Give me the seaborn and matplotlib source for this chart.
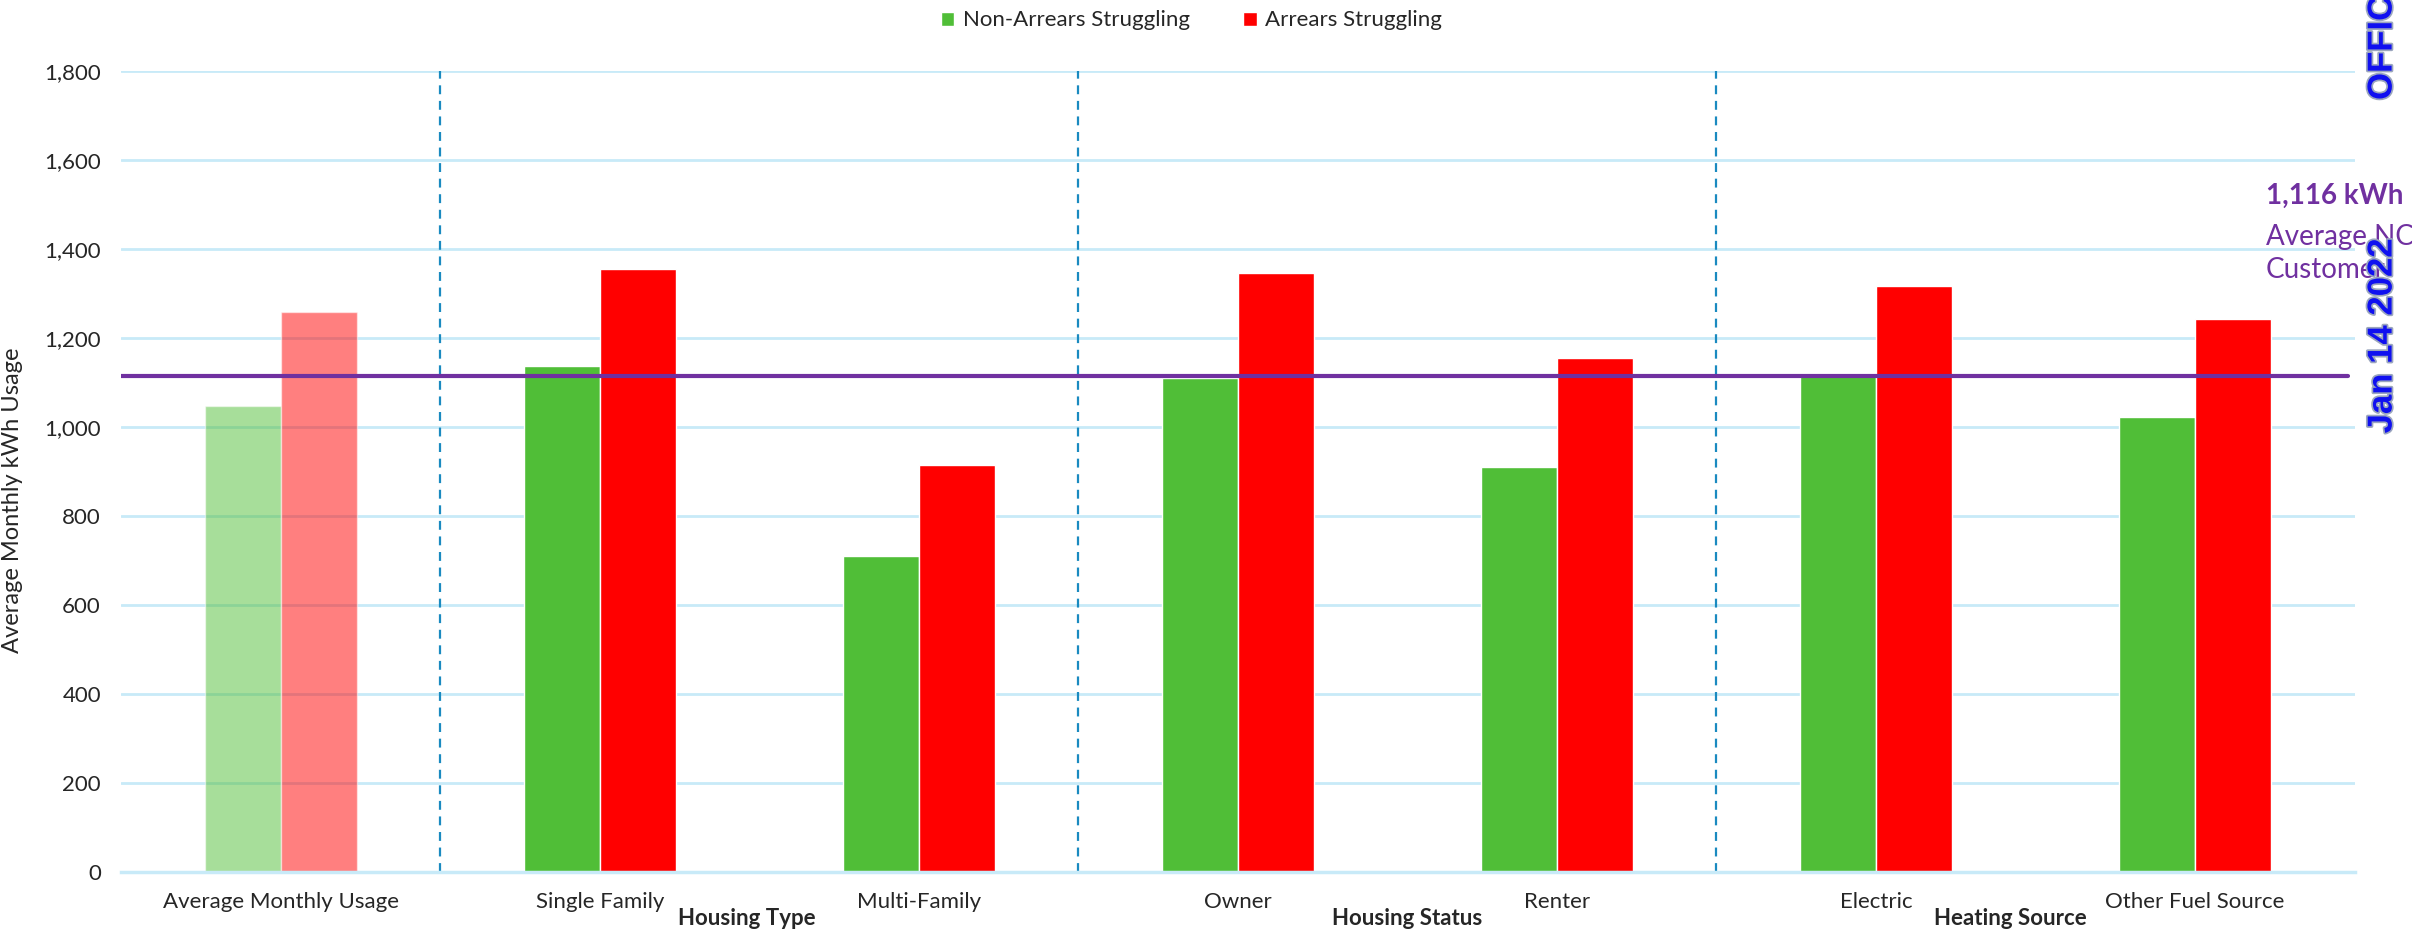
import pandas as pd
import matplotlib
matplotlib.use("Agg")
import matplotlib.pyplot as plt
import matplotlib.patheffects as pe
import seaborn as sns

# values
categories = ['Average Monthly Usage', 'Single Family', 'Multi-Family', 'Owner',
              'Renter', 'Electric', 'Other Fuel Source']
non_arrears = [1048, 1137, 710, 1111, 911, 1118, 1023]
arrears = [1259, 1356, 915, 1346, 1156, 1318, 1243]
series = ['Non-Arrears Struggling', 'Arrears Struggling']
avg_nc = 1116
groups = ['Housing Type', 'Housing Status', 'Heating Source']
group_pos = [1.46, 3.53, 5.42]
dividers = [0.5, 2.5, 4.5]

df = pd.DataFrame({
    'Category': categories * 2,
    'Usage': non_arrears + arrears,
    'Series': [series[0]] * len(categories) + [series[1]] * len(categories),
})

sns.set_style('white')
plt.rcParams['font.family'] = ['Lato', 'DejaVu Sans']

fig = plt.figure(figsize=(24.12, 9.3), dpi=100)
ax = fig.add_axes([0.0502, 0.062, 0.926, 0.8613])

sns.barplot(data=df, x='Category', y='Usage', hue='Series', order=categories,
            hue_order=series, palette=['#50BE37', '#FF0000'], width=0.477,
            saturation=1, ax=ax, legend=False)

# first group drawn lighter
for cont in ax.containers:
    cont.patches[0].set_alpha(0.5)

ax.set_ylim(0, 1800)
ax.set_xlim(-0.5, 6.5)
ax.set_yticks(range(0, 1801, 200))
ax.set_yticklabels([f'{v:,}' for v in range(0, 1801, 200)])
ax.yaxis.grid(True, color='#C8EAF8', linewidth=2)
ax.set_axisbelow(True)
for s in ['top', 'right', 'left']:
    ax.spines[s].set_visible(False)
ax.spines['bottom'].set_color('#C8EAF8')
ax.spines['bottom'].set_linewidth(2.5)
ax.tick_params(axis='both', length=0, labelsize=16)
ax.tick_params(axis='x', pad=14)
ax.tick_params(axis='y', pad=14.5)
ax.set_xlabel('')
ax.set_ylabel('Average Monthly kWh Usage', fontsize=17)
ax.yaxis.set_label_coords(-0.044, 0.465)

for d in dividers:
    ax.axvline(d, ymin=0, ymax=1, color='#1A8AC0', linestyle=(0, (4, 3)), linewidth=1.6)

ax.axhline(avg_nc, xmin=0, xmax=0.997, color='#7030A0', linewidth=3)

for g, p in zip(groups, group_pos):
    ax.text(p, -0.058, g, transform=ax.get_xaxis_transform(), ha='center', va='center',
            fontsize=16, fontweight='bold')

fig.text(0.9395, 0.789, f'{avg_nc:,} kWh', color='#7030A0', fontsize=20,
         fontweight='bold', ha='left', va='center')
fig.text(0.9395, 0.745, 'Average NC', color='#7030A0', fontsize=20,
         ha='left', va='center')
fig.text(0.9395, 0.7097, 'Customer', color='#7030A0', fontsize=20,
         ha='left', va='center')

# watermark
wm = dict(color='#1010F0', fontsize=25, fontweight='bold', rotation=90,
          ha='center', va='bottom', family='Liberation Sans',
          path_effects=[pe.withStroke(linewidth=2.5, foreground='#9BA6BE')])
fig.text(0.9876, 0.534, 'Jan 14 2022', **wm)
fig.text(0.9876, 0.8925, 'OFFICIAL COPY', **wm)

handles = [cont.patches[1] for cont in ax.containers]
fig.legend(handles, series, loc='center', bbox_to_anchor=(0.494, 0.978), ncol=2,
           frameon=False, fontsize=16, handlelength=0.6, handleheight=0.6,
           handletextpad=0.4, columnspacing=2.4)

fig.savefig('out.png', dpi=100)
